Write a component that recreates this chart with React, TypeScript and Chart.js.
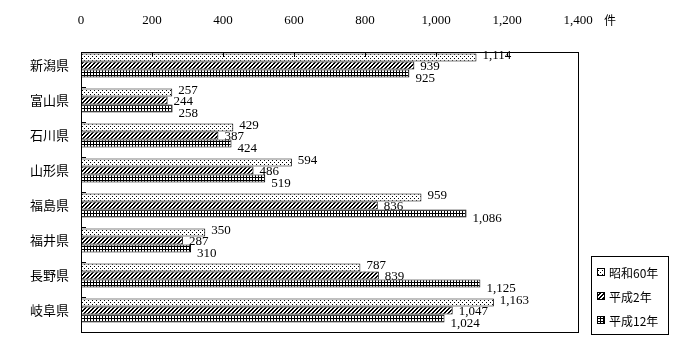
import React, { useEffect, useRef } from "react";
import { Chart, registerables } from "chart.js";

Chart.register(...registerables);

const categories = ["新潟県", "富山県", "石川県", "山形県", "福島県", "福井県", "長野県", "岐阜県"];
const seriesNames = ["昭和60年", "平成2年", "平成12年"];
const showa60 = [1114, 257, 429, 594, 959, 350, 787, 1163];
const heisei2 = [939, 244, 387, 486, 836, 287, 839, 1047];
const heisei12 = [925, 258, 424, 519, 1086, 310, 1125, 1024];
const xTickMax = 1400;
const xTickStep = 200;
const unitLabel = "件";

const NUM_FONT = "13px 'Liberation Serif', serif";
const JP_FONT = "12px 'Noto Sans CJK JP', sans-serif";

function makePattern(kind: string): CanvasPattern | string {
  const c = document.createElement("canvas");
  const size = kind === "grid" ? 3 : 4;
  c.width = size;
  c.height = size;
  const g = c.getContext("2d")!;
  g.fillStyle = "#fff";
  g.fillRect(0, 0, size, size);
  g.fillStyle = "#000";
  for (let x = 0; x < size; x++) {
    for (let y = 0; y < size; y++) {
      let on = false;
      if (kind === "dots") on = (x === 0 && y === 0) || (x === 2 && y === 2);
      if (kind === "diag") on = (x + y) % 4 < 2;
      if (kind === "grid") on = x === 0 || y === 0;
      if (on) g.fillRect(x, y, 1, 1);
    }
  }
  const p = g.createPattern(c, "repeat");
  return p || "#888";
}

export default function App() {
  const ref = useRef<HTMLCanvasElement>(null);
  useEffect(() => {
    document.body.style.margin = "0";
    const canvas = ref.current!;
    const patterns = [makePattern("dots"), makePattern("diag"), makePattern("grid")];
    const series = [showa60, heisei2, heisei12];

    const decor = {
      id: "decor",
      afterDatasetsDraw(chart: any) {
        const ctx = chart.ctx;
        const a = chart.chartArea;
        const xs = chart.scales.x;
        ctx.save();
        ctx.strokeStyle = "#000";
        ctx.lineWidth = 1;
        ctx.strokeRect(Math.round(a.left) + 0.5, Math.round(a.top) + 0.5, Math.round(a.right - a.left), Math.round(a.bottom - a.top));
        ctx.beginPath();
        for (let v = xTickStep; v < xTickMax; v += xTickStep) {
          const px = Math.round(xs.getPixelForValue(v)) + 0.5;
          ctx.moveTo(px, a.top);
          ctx.lineTo(px, a.top + 5);
        }
        const step = (a.bottom - a.top) / categories.length;
        for (let i = 1; i < categories.length; i++) {
          const py = Math.round(a.top + step * i) + 0.5;
          ctx.moveTo(a.left, py);
          ctx.lineTo(a.left + 5, py);
        }
        ctx.stroke();

        ctx.fillStyle = "#000";
        ctx.font = NUM_FONT;
        ctx.textAlign = "left";
        ctx.textBaseline = "middle";
        const dy = [-2, 1, 5];
        for (let d = 0; d < 3; d++) {
          const meta = chart.getDatasetMeta(d);
          meta.data.forEach((bar: any, i: number) => {
            const v = series[d][i];
            ctx.fillText(v.toLocaleString("en-US"), bar.x + 6, bar.y + dy[d]);
          });
        }

        ctx.font = JP_FONT;
        ctx.textAlign = "left";
        ctx.fillText(unitLabel, 604, 20);

        const lx = 591, ly = 256, lw = 77, lh = 78;
        ctx.strokeRect(lx + 0.5, ly + 0.5, lw, lh);
        const rows = [272, 296, 320];
        for (let k = 0; k < 3; k++) {
          const sy = rows[k] - 4;
          ctx.fillStyle = patterns[k] as any;
          ctx.fillRect(lx + 6, sy, 8, 8);
          ctx.strokeRect(lx + 6.5, sy + 0.5, 7, 7);
          ctx.fillStyle = "#000";
          ctx.fillText(seriesNames[k], lx + 18, rows[k] + 1);
        }
        ctx.restore();
      },
    };

    const mkDs = (label: string, data: (number | null)[], bg: any) => ({
      label,
      data,
      backgroundColor: bg,
      borderColor: "#000",
      borderWidth: 1,
      borderSkipped: false,
      barPercentage: 1,
      categoryPercentage: 32 / 35,
    });

    const chart = new Chart(canvas, {
      type: "bar",
      data: {
        labels: categories,
        datasets: [
          mkDs(seriesNames[0], showa60, patterns[0]),
          mkDs(seriesNames[1], heisei2, patterns[1]),
          mkDs(seriesNames[2], heisei12, patterns[2]),
          mkDs("", categories.map(() => null), "rgba(0,0,0,0)"),
        ],
      },
      options: {
        indexAxis: "y",
        animation: false,
        responsive: false,
        locale: "en-US",
        layout: { padding: { top: 12, left: 0, right: 122, bottom: 28 } },
        plugins: { legend: { display: false }, tooltip: { enabled: false } },
        scales: {
          x: {
            position: "top",
            min: 0,
            max: xTickMax,
            afterFit: (s: any) => { s.height = 40; },
            ticks: { stepSize: xTickStep, color: "#000", font: { family: "'Liberation Serif', serif", size: 13 }, padding: 24, maxRotation: 0 },
            grid: { display: false, drawTicks: false },
            border: { display: false },
          },
          y: {
            afterFit: (s: any) => { s.width = 81; },
            ticks: { color: "#000", font: { family: "'Noto Sans CJK JP', sans-serif", size: 13 }, padding: 12, labelOffset: -4 },
            grid: { display: false, drawTicks: false },
            border: { display: false },
          },
        },
      },
      plugins: [decor],
    } as any);
    return () => chart.destroy();
  }, []);
  return (
    <div style={{ width: 700, height: 360, background: "#fff" }}>
      <canvas ref={ref} width={700} height={360} style={{ display: "block" }} />
    </div>
  );
}
